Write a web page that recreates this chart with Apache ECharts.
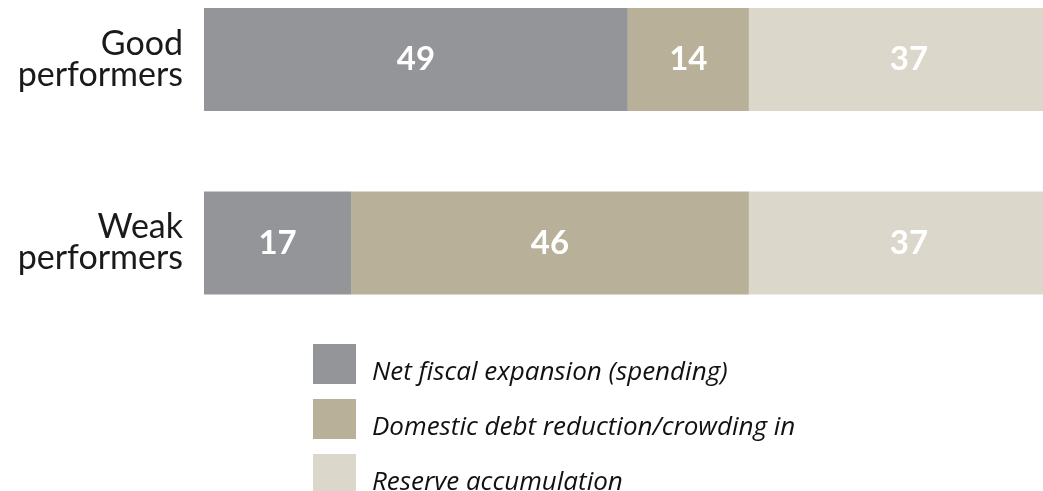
<!DOCTYPE html>
<html>
<head>
<meta charset="utf-8">
<script src="https://cdn.jsdelivr.net/npm/echarts@6/dist/echarts.min.js"></script>
<style>
  html, body { margin: 0; padding: 0; background: #ffffff; }
  #chart { width: 1043px; height: 491px; }
</style>
</head>
<body>
<div id="chart"></div>
<script>
// Share of aid use by country group (percent)
const categories = ['Good\nperformers', 'Weak\nperformers'];
const seriesNames = [
  'Net fiscal expansion (spending)',
  'Domestic debt reduction/crowding in',
  'Reserve accumulation'
];
const spending = [49, 17];
const debtReduction = [14, 46];
const reserves = [37, 37];
const colors = ['#949599', '#b8b098', '#dbd8cb'];

const FONT = 'Lato, "DejaVu Sans", sans-serif';
const LEGEND_FONT = '"Open Sans", "DejaVu Sans", sans-serif';

const valueSets = [spending, debtReduction, reserves];

const chart = echarts.init(document.getElementById('chart'), null, { renderer: 'canvas' });

chart.setOption({
  backgroundColor: '#ffffff',
  animation: false,
  // categories sit on the top and bottom edges of the grid; the full 100%
  // bar runs past the right edge of the canvas
  grid: { left: 204, right: 0, top: 59.5, height: 183.5, containLabel: false },
  xAxis: {
    type: 'value',
    min: 0,
    max: 97,
    show: false
  },
  yAxis: {
    type: 'category',
    data: categories,
    inverse: true,
    boundaryGap: false,
    axisLine: { show: false },
    axisTick: { show: false },
    splitLine: { show: false },
    axisLabel: {
      margin: 21,
      align: 'right',
      color: '#1a1a1a',
      fontFamily: FONT,
      fontSize: 34,
      lineHeight: 31
    }
  },
  legend: {
    orient: 'vertical',
    left: 313,
    top: 344,
    padding: 0,
    height: 220,
    itemWidth: 43,
    itemHeight: 40,
    itemGap: 13,
    icon: 'rect',
    selectedMode: false,
    data: seriesNames,
    formatter: name => '{t|' + name + '}',
    textStyle: {
      fontFamily: LEGEND_FONT,
      fontStyle: 'italic',
      fontSize: 26,
      color: '#111111',
      padding: [0, 0, 0, 11],
      rich: {
        // drop the legend text a little below the middle of its swatch
        t: {
          fontFamily: LEGEND_FONT,
          fontStyle: 'italic',
          fontSize: 26,
          color: '#111111',
          padding: [18, 0, 0, 0]
        }
      }
    }
  },
  series: valueSets.map((vals, i) => ({
    name: seriesNames[i],
    type: 'bar',
    stack: 'total',
    barWidth: 103,
    clip: false,
    data: vals,
    itemStyle: { color: colors[i] },
    label: {
      show: true,
      position: 'inside',
      color: '#ffffff',
      fontFamily: FONT,
      fontWeight: 'bold',
      fontSize: 33
    }
  }))
});
</script>
</body>
</html>
